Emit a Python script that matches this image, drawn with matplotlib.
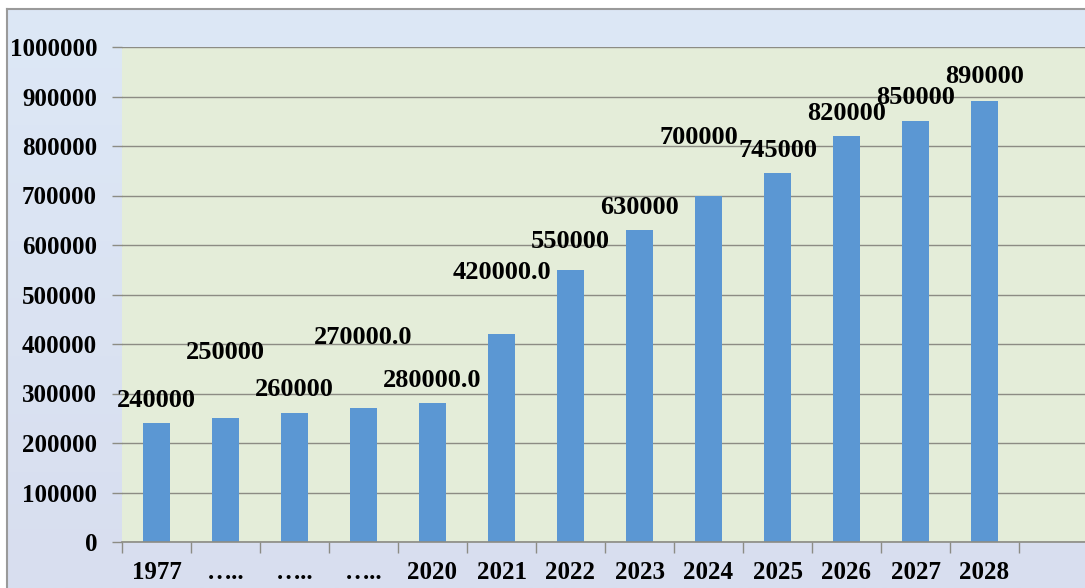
import numpy as np
import matplotlib
matplotlib.use("Agg")
import matplotlib.pyplot as plt

categories = ["1977", "…..", "…..", "…..", "2020", "2021", "2022", "2023",
              "2024", "2025", "2026", "2027", "2028"]
values = [240000, 250000, 260000, 270000, 280000, 420000, 550000, 630000,
          700000, 745000, 820000, 850000, 890000]
value_labels = ["240000", "250000", "260000", "270000.0", "280000.0", "420000.0",
                "550000", "630000", "700000", "745000", "820000", "850000", "890000"]
y_ticks = [0, 100000, 200000, 300000, 400000, 500000, 600000, 700000, 800000,
           900000, 1000000]

# label placement (pixels above bar top, horizontal pixel shift) - layout only
label_dy_px = [23, 66, 24, 71, 23, 62, 28, 23, 58, 23, 23, 24, 24.5]
label_dx_px = [0, 0, 0, 0, 0, 0, 0, 0, -10, 0, 0, 0, 0]

W, H = 1085, 588
fig = plt.figure(figsize=(W / 100, H / 100), dpi=100, facecolor="white")

# outer chart background with gradient and gray border
bx, by = 7, 9
bg = fig.add_axes([bx / W, 0, 1 - bx / W, 1 - by / H])
grad = np.linspace(0, 1, 256).reshape(-1, 1)
top = np.array([221, 232, 246]) / 255
bot = np.array([216, 222, 239]) / 255
img = top[None, None, :] * (1 - grad[:, :, None]) + bot[None, None, :] * grad[:, :, None]
bg.imshow(img, aspect="auto", extent=[0, 1, 0, 1], origin="upper")
bg.set_xlim(0, 1)
bg.set_ylim(0, 1)
bg.set_xticks([])
bg.set_yticks([])
for s in ["bottom", "right"]:
    bg.spines[s].set_visible(False)
for s in ["top", "left"]:
    bg.spines[s].set_color("#9a9a9a")
    bg.spines[s].set_linewidth(1.5)

# plot area
left_px, right_px, top_px, bottom_px = 122, 1085, 47, 542
ax = fig.add_axes([left_px / W, 1 - bottom_px / H, (right_px - left_px) / W,
                   (bottom_px - top_px) / H])
ax.set_facecolor("#e4edd9")

slot_px = (1019 - 122) / 13.0
x = np.arange(len(categories))
ax.bar(x, values, width=0.39, color="#5b97d3", zorder=3)

ax.set_ylim(0, 1000000)
ax.set_xlim(-0.5, -0.5 + (right_px - left_px) / slot_px)
ax.set_yticks(y_ticks)
ax.set_yticklabels([str(v) for v in y_ticks])
ax.grid(axis="y", color="#8c8c84", linewidth=1.0, zorder=1)
ax.set_xticks(x)
ax.set_xticklabels(categories)
ax.set_xticks(np.arange(-0.5, len(categories) + 0.5, 1.0), minor=True)
ax.tick_params(axis="x", which="major", length=0, pad=14)
ax.tick_params(axis="x", which="minor", length=8, color="#8c8c84", width=1)
ax.tick_params(axis="y", length=7, color="#8c8c84", width=1, pad=11)

font = dict(family="Liberation Serif", weight="bold", color="black")
for lab in ax.get_xticklabels() + ax.get_yticklabels():
    lab.set_fontfamily("Liberation Serif")
    lab.set_fontweight("bold")
    lab.set_fontsize(18)

for s in ["top", "right", "left"]:
    ax.spines[s].set_visible(False)
ax.spines["bottom"].set_color("#8c8c84")
ax.spines["bottom"].set_linewidth(1.2)
ax.spines["bottom"].set_zorder(4)

for xi, v, t, dy, dx in zip(x, values, value_labels, label_dy_px, label_dx_px):
    ax.annotate(t, xy=(xi, v), xytext=(dx * 0.72, dy * 0.72), textcoords="offset points",
                ha="center", va="center", fontsize=19, zorder=5, **font)

fig.savefig("out.png", dpi=100, facecolor="white")
